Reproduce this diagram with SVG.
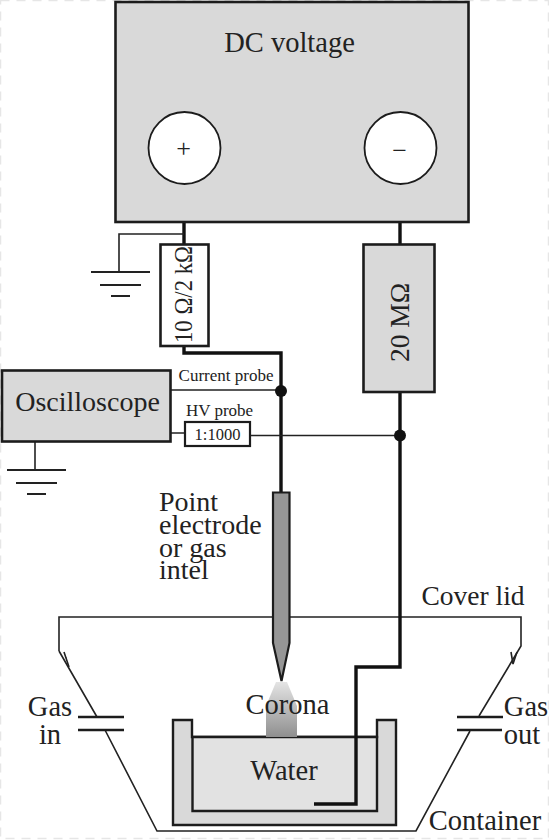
<svg xmlns="http://www.w3.org/2000/svg" width="549" height="840" viewBox="0 0 549 840">
<style>
text{font-family:"Liberation Serif","Times New Roman",serif;fill:#222}
.box{stroke:#1c1c1c;stroke-width:2.6;fill:#d9d9d9}
.wh{fill:#fff}
.thin{fill:none;stroke:#222;stroke-width:1.6}
.med{fill:none;stroke:#222;stroke-width:2.2}
.thick{fill:none;stroke:#111;stroke-width:3.4}
.gas{fill:none;stroke:#1c1c1c;stroke-width:2.6}
.dot{fill:#111}
.big{font-size:28.500px}
.small{font-size:17px}
</style>
<defs>
<linearGradient id="cor" x1="0" y1="0" x2="0" y2="1"><stop offset="0" stop-color="#e4e4e4"/><stop offset="1" stop-color="#8f8f8f"/></linearGradient>
</defs>
<rect width="549" height="840" fill="#fff"/>
<rect x="0.5" y="0.5" width="548" height="838" fill="none" stroke="#e6e6e6" stroke-width="1.5" stroke-dasharray="9 7"/>
<g id="container">
<path d="M173 720H192V737H377V720H396V825H173Z" fill="#d9d9d9" stroke="#1c1c1c" stroke-width="2.4"/>
<path d="M192.500 737H377V811H192.500Z" fill="#e2e2e2" stroke="#1c1c1c" stroke-width="2.4"/>
<text class="big" x="284" y="780" text-anchor="middle">Water</text>
<text class="big" x="485" y="830" text-anchor="middle">Container</text>
</g>
<g id="corona">
<path d="M266 737V706L276 682H287L297 706V737Z" fill="url(#cor)"/>
<text class="big" x="287.500" y="714" text-anchor="middle">Corona</text>
</g>
<g id="connectors">
<path class="thin" d="M59 651V617H521V646L479 716M59 651L97 717M105 730L157 831H416L470 731"/>
<path class="thin" d="M64 652L69 667L66 658M511 652L513 664L517 652"/>
<path class="gas" d="M78 717H124M78 730H124M457 717H503M457 730H502"/>
<path class="thick" d="M184 222V244M400 222V244M184 346V353H281V492M400 392V667H356V804H314"/>
<path class="thin" d="M184 234H119V272M35 441V470M170 390H281M170 433H185M250 435.500H400"/>
<path class="med" d="M91 272H150M100 285H141M111 296H130M7 470H66M16 483H57M27 494H46"/>
<circle class="dot" cx="281" cy="391" r="6"/>
<circle class="dot" cx="400" cy="435.500" r="6"/>
</g>
<g id="dc-voltage">
<rect class="box" x="115.500" y="2" width="353" height="220"/>
<text class="big" x="289.500" y="52" text-anchor="middle" font-size="28">DC voltage</text>
<circle cx="184.500" cy="148" r="36" fill="#fff" stroke="#1c1c1c" stroke-width="1.800"/>
<circle cx="400.500" cy="148" r="36" fill="#fff" stroke="#1c1c1c" stroke-width="1.800"/>
<text x="183.500" y="157" font-size="26" text-anchor="middle">+</text>
<text x="399.500" y="159" font-size="26" text-anchor="middle" fill="#777">−</text>
</g>
<g id="resistor-10">
<rect class="box wh" x="160.500" y="244.500" width="48" height="101.500"/>
<text transform="translate(192 343) rotate(-90)" font-size="24.500" textLength="97" lengthAdjust="spacingAndGlyphs">10 Ω/2 kΩ</text>
</g>
<g id="resistor-20">
<rect class="box" x="363.500" y="244.500" width="71" height="147.500"/>
<text transform="translate(409 362) rotate(-90)" font-size="27.500">20 MΩ</text>
</g>
<g id="oscilloscope">
<rect class="box" x="2" y="370.500" width="168.500" height="71"/>
<text class="big" x="87.500" y="411" text-anchor="middle" style="font-size:28px">Oscilloscope</text>
</g>
<g id="hv-probe">
<rect x="185" y="422" width="65" height="24" fill="#fff" stroke="#1c1c1c" stroke-width="2.200"/>
<text x="217.500" y="440" font-size="16.500" text-anchor="middle">1:1000</text>
<text class="small" x="219.500" y="416" text-anchor="middle">HV probe</text>
</g>
<g id="current-probe">
<text class="small" x="226" y="381" text-anchor="middle">Current probe</text>
</g>
<g id="electrode">
<path d="M273 492.500H289.500V643L281.500 681L273 643Z" fill="#969696" stroke="#1c1c1c" stroke-width="2.200"/>
<text style="font-size:28px"><tspan x="159" y="511">Point</tspan><tspan x="159" y="534">electrode</tspan><tspan x="159" y="557">or gas</tspan><tspan x="159" y="579">intel</tspan></text>
</g>
<g id="labels">
<text x="473" y="605" style="font-size:27.500px" text-anchor="middle">Cover lid</text>
<text class="big" x="50" y="716" text-anchor="middle">Gas</text>
<text class="big" x="50" y="744" text-anchor="middle">in</text>
<text class="big" x="526" y="716" text-anchor="middle">Gas</text>
<text class="big" x="522" y="744" text-anchor="middle">out</text>
</g>
</svg>
